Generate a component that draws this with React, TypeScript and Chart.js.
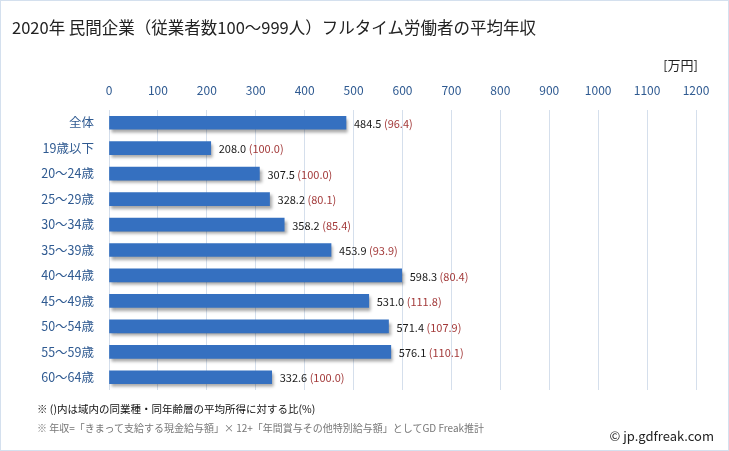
import React, { useEffect, useRef } from "react";
import { Chart, registerables } from "chart.js";

Chart.register(...registerables);

const categories = ["全体", "19歳以下", "20～24歳", "25～29歳", "30～34歳", "35～39歳", "40～44歳", "45～49歳", "50～54歳", "55～59歳", "60～64歳"];
const incomes = [484.5, 208.0, 307.5, 328.2, 358.2, 453.9, 598.3, 531.0, 571.4, 576.1, 332.6];
const ratios = [96.4, 100.0, 100.0, 80.1, 85.4, 93.9, 80.4, 111.8, 107.9, 110.1, 100.0];
const xMin = 0;
const xMax = 1200;
const xStep = 100;

const title = "2020年 民間企業（従業者数100～999人）フルタイム労働者の平均年収";
const unitLabel = "[万円]";
const note1 = "※ ()内は域内の同業種・同年齢層の平均所得に対する比(%)";
const note2 = "※ 年収=「きまって支給する現金給与額」× 12+「年間賞与その他特別給与額」としてGD Freak推計";
const credit = "© jp.gdfreak.com";

const FONT = "'Noto Sans CJK JP', 'Noto Sans', sans-serif";
const BLUE_TEXT = "#2F5A91";

export default function App() {
  const canvasRef = useRef<HTMLCanvasElement | null>(null);

  useEffect(() => {
    document.body.style.margin = "0";
    const canvas = canvasRef.current;
    if (!canvas) return;

    const shadowPlugin = {
      id: "barShadow",
      beforeDatasetsDraw(chart: any) {
        const ctx = chart.ctx;
        ctx.save();
        ctx.shadowColor = "rgba(0,0,0,0.35)";
        ctx.shadowBlur = 3;
        ctx.shadowOffsetX = 2;
        ctx.shadowOffsetY = 3;
      },
      afterDatasetsDraw(chart: any) {
        chart.ctx.restore();
      },
    };

    const labelPlugin = {
      id: "valueLabels",
      afterDraw(chart: any) {
        const ctx = chart.ctx;
        const meta = chart.getDatasetMeta(0);
        ctx.save();
        ctx.font = `11px ${FONT}`;
        ctx.textBaseline = "middle";
        ctx.textAlign = "left";
        meta.data.forEach((bar: any, i: number) => {
          const x = bar.x + 8;
          const y = bar.y + 1;
          const v = incomes[i].toFixed(1);
          ctx.fillStyle = "#1a1a1a";
          ctx.fillText(v, x, y);
          const w = ctx.measureText(v + " ").width;
          ctx.fillStyle = "#A33A3A";
          ctx.fillText(`(${ratios[i].toFixed(1)})`, x + w, y);
        });
        ctx.restore();
      },
    };

    const chart = new Chart(canvas, {
      type: "bar",
      data: {
        labels: categories,
        datasets: [
          {
            data: incomes,
            barThickness: 13,
            backgroundColor: (c: any) => {
              const el = c.element;
              const ctx = c.chart.ctx;
              if (!el || el.y === undefined) return "#3570C0";
              const g = ctx.createLinearGradient(0, el.y - 7, 0, el.y + 7);
              g.addColorStop(0, "#4283D6");
              g.addColorStop(1, "#2A5DA3");
              return g;
            },
            borderWidth: 0,
          },
        ],
      },
      options: {
        indexAxis: "y",
        animation: false,
        responsive: false,
        maintainAspectRatio: false,
        layout: { padding: { left: 0, right: 33, top: 0, bottom: 61 } },
        plugins: {
          legend: { display: false },
          tooltip: { enabled: false },
          title: { display: false },
        },
        scales: {
          x: {
            position: "top",
            min: xMin,
            max: xMax,
            ticks: {
              stepSize: xStep,
              color: BLUE_TEXT,
              font: { family: FONT, size: 12 },
              padding: 12,
              callback: (v: any) => String(v),
            },
            grid: { color: "#D5DFEC", drawTicks: false, lineWidth: 1 },
            border: { display: false },
            afterFit: (s: any) => {
              s.height = 110;
            },
          },
          y: {
            ticks: {
              color: BLUE_TEXT,
              font: { family: FONT, size: 12.5 },
              padding: 15,
              autoSkip: false,
            },
            grid: { display: false, drawTicks: false },
            border: { display: false },
            afterFit: (s: any) => {
              s.width = 109;
            },
          },
        },
      },
      plugins: [shadowPlugin, labelPlugin],
    } as any);

    return () => chart.destroy();
  }, []);

  return (
    <div
      style={{
        position: "fixed",
        left: 0,
        top: 0,
        width: 729,
        height: 451,
        background: "#fff",
        fontFamily: FONT,
        overflow: "hidden",
      }}
    >
      <canvas ref={canvasRef} width={729} height={451} style={{ position: "absolute", left: 0, top: 0, display: "block" }} />
      <div
        style={{
          position: "absolute",
          left: 0,
          top: 0,
          width: 727,
          height: 449,
          border: "1px solid #D4E0EE",
          pointerEvents: "none",
        }}
      />
      <div style={{ position: "absolute", left: 12, top: 16, fontSize: 16.5, color: "#222", whiteSpace: "nowrap", lineHeight: "22px" }}>{title}</div>
      <div style={{ position: "absolute", right: 31, top: 55, fontSize: 13, color: "#222", whiteSpace: "nowrap", lineHeight: "20px" }}>{unitLabel}</div>
      <div style={{ position: "absolute", left: 37, top: 401, fontSize: 10.5, color: "#111", whiteSpace: "nowrap", lineHeight: "16px" }}>{note1}</div>
      <div style={{ position: "absolute", left: 37, top: 421, fontSize: 10, color: "#777", whiteSpace: "nowrap", lineHeight: "14px" }}>{note2}</div>
      <div style={{ position: "absolute", right: 15, top: 426, fontSize: 13, color: "#222", whiteSpace: "nowrap", lineHeight: "20px" }}>{credit}</div>
    </div>
  );
}
